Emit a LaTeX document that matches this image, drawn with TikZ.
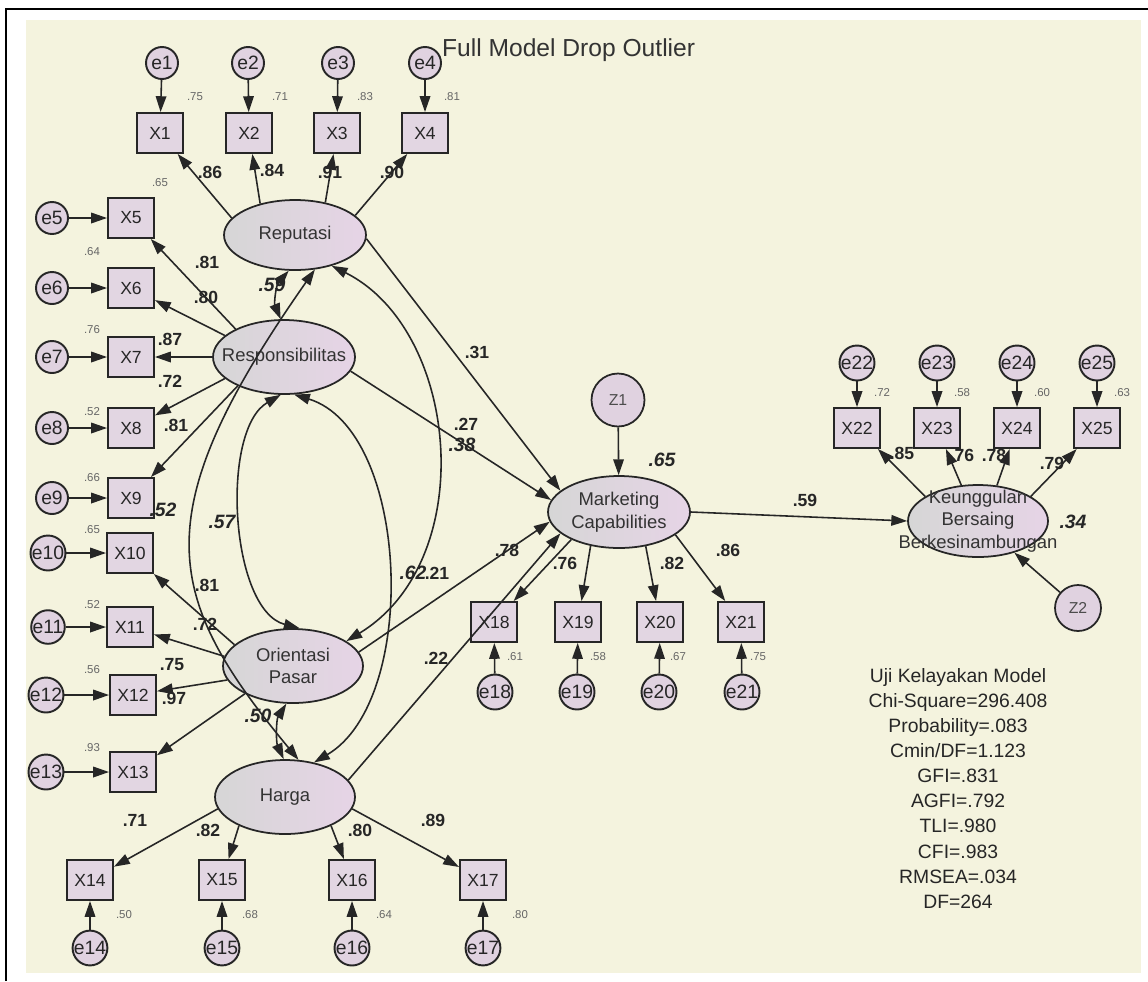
\documentclass[tikz,border=0pt]{standalone}
\usepackage{fontspec}
\setmainfont{Liberation Sans}
\usepackage{tikz}
\usetikzlibrary{arrows.meta,shapes.geometric}

\definecolor{cream}{HTML}{F4F3DE}
\definecolor{linec}{HTML}{262626}
\definecolor{latgrey}{HTML}{D6D6D6}
\definecolor{latpink}{HTML}{E6D4E6}
\definecolor{boxfill}{HTML}{E2D6E2}
\definecolor{errfill}{HTML}{E0D2E0}

\begin{document}
\begin{tikzpicture}[x=0.02cm,y=-0.02cm]

\tikzset{
  latent/.style={ellipse, draw=linec, line width=1pt, left color=latgrey, right color=latpink,
                 minimum width=2.84cm, minimum height=1.44cm, inner sep=0pt},
  latlabel/.style={font=\fontsize{10.5}{12.8}\selectfont, text=black!80, align=center},
  observed/.style={rectangle, draw=linec, line width=1.1pt, fill=boxfill,
                 minimum width=0.92cm, minimum height=0.8cm, inner sep=0pt,
                 font=\fontsize{10}{12}\selectfont, text=black!85},
  errvar/.style={circle, draw=linec, line width=1.1pt, fill=errfill, minimum size=0.64cm,
                 inner sep=0pt, font=\fontsize{11}{12}\selectfont, text=black!85},
  disturb/.style={circle, draw=linec, line width=1pt, fill=errfill, inner sep=0pt,
                 font=\fontsize{9}{10}\selectfont, text=black!70},
  regpath/.style={linec, line width=0.9pt, -{Triangle[length=9pt, width=6pt]}},
  covar/.style={linec, line width=0.9pt,
                 {Triangle[length=9pt, width=6pt]}-{Triangle[length=9pt, width=6pt]}},
  est/.style={font=\bfseries\fontsize{10}{12}\selectfont, text=black!85},
  corr/.style={font=\bfseries\itshape\fontsize{11}{12}\selectfont, text=black!85},
  r2/.style={font=\fontsize{6.5}{7}\selectfont, text=black!60}
}

\newcommand{\indicator}[5]{
  \node[observed] (x#1) at (#2) {X#1};
  \node[errvar] (e#1) at (#3) {e#1};
  \draw[regpath] (e#1) -- (x#1);
  \node[r2] (v#1) at (#4) {#5};
}

% Page and panel
\useasboundingbox (0,0) rectangle (1148,981);
\fill[white] (0,0) rectangle (1148,981);
\draw[black, line width=1.2pt] (6,981) -- (6,9) -- (1148,9);
\fill[cream] (26,20) rectangle (1141,973);
\node[font=\fontsize{14}{16}\selectfont, text=black!80, anchor=west] (title) at (436,50) {Full Model Drop Outlier};

% Latent variables
\node[latent, minimum height=1.40cm] (rep) at (295,235) {};
\node[latent, minimum height=1.48cm] (resp) at (284,357) {};
\node[latent, minimum width=2.80cm, minimum height=1.48cm] (orient) at (293,666) {};
\node[latent, minimum width=2.80cm, minimum height=1.48cm] (harga) at (285,797) {};
\node[latent] (mkt) at (619,512) {};
\node[latent, minimum width=2.80cm] (keu) at (978,521) {};
\node[latlabel] (reptext) at (rep) {Reputasi};
\node[latlabel] (resptext) at (resp) {Responsibilitas};
\node[latlabel] (orienttext) at (orient) {Orientasi\\Pasar};
\node[latlabel] (hargatext) at (harga) {Harga};
\node[latlabel] (mkttext) at (mkt) {Marketing\\Capabilities};
\node[latlabel] (keutext) at (keu) {Keunggulan\\Bersaing\\Berkesinambungan};

\node[disturb, minimum size=1.06cm] (z1) at (618,400) {Z1};
\node[disturb, minimum size=0.92cm] (z2) at (1078,608) {Z2};

% Indicators
\indicator{1}{160,133}{162,63}{195,97}{.75}
\indicator{2}{249,133}{248,63}{280,97}{.71}
\indicator{3}{337,133}{338,63}{365,97}{.83}
\indicator{4}{425,133}{425,63}{452,97}{.81}
\indicator{5}{131,218}{52,218}{160,183}{.65}
\indicator{6}{131,288}{52,288}{92,252}{.64}
\indicator{7}{131,357}{52,357}{92,330}{.76}
\indicator{8}{131,428}{52,428}{92,412}{.52}
\indicator{9}{131,498}{52,498}{92,478}{.66}
\indicator{10}{130,553}{48,553}{92,530}{.65}
\indicator{11}{130,627}{48,627}{92,605}{.52}
\indicator{12}{133,695}{46,695}{92,670}{.56}
\indicator{13}{133,772}{46,772}{92,748}{.93}
\indicator{14}{90,880}{90,948}{124,915}{.50}
\indicator{15}{222,880}{222,948}{250,915}{.68}
\indicator{16}{352,880}{352,948}{384,915}{.64}
\indicator{17}{483,880}{483,948}{520,915}{.80}
\indicator{18}{494,622}{495,692}{515,657}{.61}
\indicator{19}{578,622}{577,692}{598,657}{.58}
\indicator{20}{660,622}{659,692}{678,657}{.67}
\indicator{21}{741,622}{742,692}{758,657}{.75}
\indicator{22}{857,428}{857,363}{882,393}{.72}
\indicator{23}{937,428}{937,363}{962,393}{.58}
\indicator{24}{1017,428}{1017,363}{1042,393}{.60}
\indicator{25}{1097,428}{1097,363}{1122,393}{.63}

% Loadings
\draw[regpath] (rep.165) -- (x1);
\draw[regpath] (rep.138) -- (x2);
\draw[regpath] (rep.47) -- (x3);
\draw[regpath] (rep.18) -- (x4);
\draw[regpath] (resp.150) -- (x5);
\draw[regpath] (resp.160) -- (x6);
\draw[regpath] (resp.west) -- (x7);
\draw[regpath] (resp.200) -- (x8);
\draw[regpath] (resp.212) -- (x9);
\draw[regpath] (orient.160) -- (x10);
\draw[regpath] (orient.172) -- (x11);
\draw[regpath] (orient.192) -- (x12);
\draw[regpath] (orient.210) -- (x13);
\draw[regpath] (harga.190) -- (x14);
\draw[regpath] (harga.212) -- (x15);
\draw[regpath] (harga.-32) -- (x16);
\draw[regpath] (harga.-10) -- (x17);
\draw[regpath] (mkt.210) -- (x18);
\draw[regpath] (mkt.-130) -- (x19);
\draw[regpath] (mkt.-52) -- (x20);
\draw[regpath] (mkt.-22) -- (x21);
\draw[regpath] (keu.155) -- (x22);
\draw[regpath] (keu.115) -- (x23);
\draw[regpath] (keu.62) -- (x24);
\draw[regpath] (keu.25) -- (x25);

% Structural paths
\draw[regpath] (rep.-3) -- (mkt.160);
\draw[regpath] (resp.-12) -- (mkt.170);
\draw[regpath] (orient.12) -- (mkt.188);
\draw[regpath] (harga.15) -- (mkt.200);
\draw[regpath] (mkt.east) -- (keu.west);
\draw[regpath] (z1) -- (mkt);
\draw[regpath] (z2) -- (keu);

% Correlations
\draw[covar] (rep.-100) .. controls (276,285) and (274,303) .. (resp.95);
\draw[covar] (rep.-60) .. controls (143,515) and (163,596) .. (harga.70);
\draw[covar] (rep.-40) .. controls (460,330) and (480,560) .. (orient.25);
\draw[covar] (resp.-95) .. controls (220,430) and (230,610) .. (orient.80);
\draw[covar] (resp.-75) .. controls (410,430) and (420,700) .. (harga.50);
\draw[covar] (orient.-100) .. controls (276,720) and (276,742) .. (harga.92);

% Estimates
\node[est] (l1) at (210,172) {.86};
\node[est] (l2) at (272,170) {.84};
\node[est] (l3) at (330,172) {.91};
\node[est] (l4) at (392,172) {.90};
\node[est] (l5) at (207,262) {.81};
\node[est] (l6) at (206,297) {.80};
\node[est] (l7) at (170,339) {.87};
\node[est] (l8) at (170,381) {.72};
\node[est] (l9) at (176,425) {.81};
\node[est] (l10) at (207,585) {.81};
\node[est] (l11) at (205,624) {.72};
\node[est] (l12) at (172,665) {.75};
\node[est] (l13) at (174,698) {.97};
\node[est] (l14) at (135,820) {.71};
\node[est] (l15) at (208,830) {.82};
\node[est] (l16) at (360,830) {.80};
\node[est] (l17) at (433,820) {.89};
\node[est] (l18) at (507,550) {.78};
\node[est] (l19) at (565,563) {.76};
\node[est] (l20) at (672,563) {.82};
\node[est] (l21) at (728,550) {.86};
\node[est] (l22) at (902,453) {.85};
\node[est] (l23) at (962,455) {.76};
\node[est] (l24) at (994,455) {.78};
\node[est] (l25) at (1052,463) {.79};

\node[est] (b1) at (477,352) {.31};
\node[est] (b2) at (466,424) {.27};
\node[est] (b3) at (437,573) {.21};
\node[est] (b4) at (436,658) {.22};
\node[est] (b5) at (805,500) {.59};

\node[corr] (c1) at (272,285) {.59};
\node[corr] (c2) at (163,510) {.52};
\node[corr] (c3) at (462,445) {.38};
\node[corr] (c4) at (222,522) {.57};
\node[corr] (c5) at (413,573) {.62};
\node[corr] (c6) at (258,716) {.50};
\node[corr] (rsq1) at (662,460) {.65};
\node[corr] (rsq2) at (1073,522) {.34};

% Fit indices
\node[font=\fontsize{11}{14.3}\selectfont, text=black!85, align=center, anchor=north] (fit) at (958,662)
  {Uji Kelayakan Model\\Chi-Square=296.408\\Probability=.083\\Cmin/DF=1.123\\GFI=.831\\AGFI=.792\\TLI=.980\\CFI=.983\\RMSEA=.034\\DF=264};

\end{tikzpicture}
\end{document}
